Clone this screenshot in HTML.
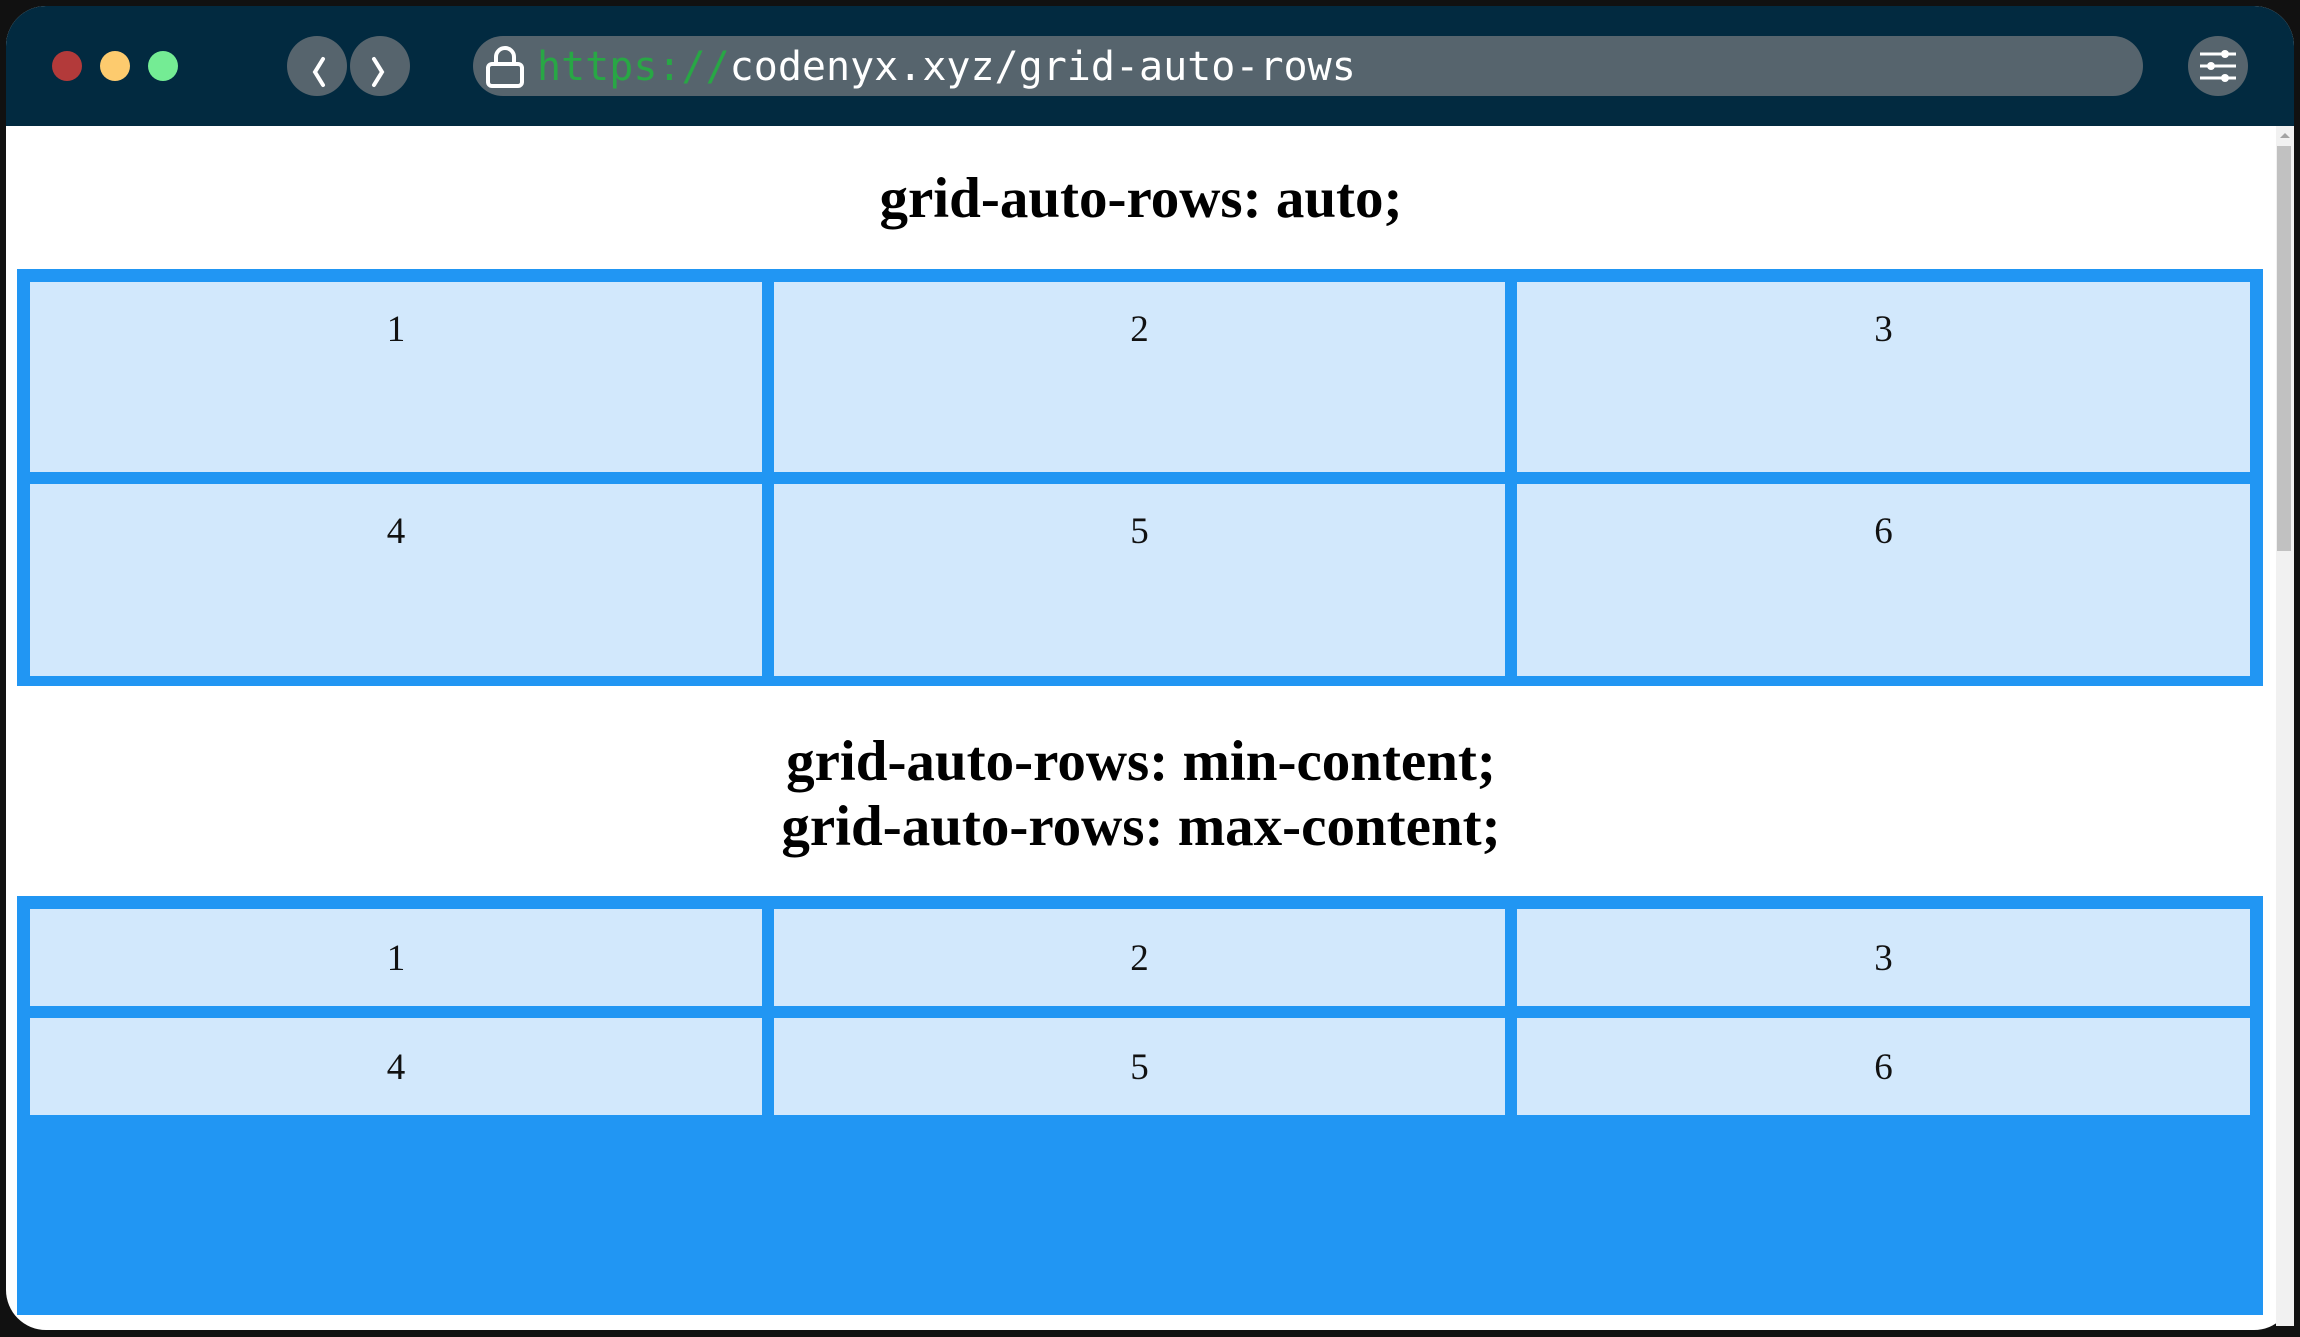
<!DOCTYPE html>
<html><head><meta charset="utf-8"><style>
*{margin:0;padding:0;box-sizing:border-box}
body{width:2300px;height:1337px;background:#111;position:relative;overflow:hidden;font-family:"Liberation Serif",serif}
.a{position:absolute}
.win{left:6px;top:6px;width:2288px;height:1324px;background:#fff;border-radius:40px;overflow:hidden}
.bar{left:0;top:0;width:2288px;height:120px;background:#022a40}
.dot{width:30px;height:30px;border-radius:50%;top:51px}
.pill{background:#56646d}
.cell{background:#d2e8fc;text-align:center;font-size:37px;color:#111}
.h{left:6px;width:2270px;text-align:center;font-weight:bold;font-size:57px;color:#000}
</style></head><body>
<div class="a win">
  <div class="a bar"></div>
</div>
<div class="a dot" style="left:52px;background:#b33a3a"></div>
<div class="a dot" style="left:100px;background:#fdcb6e"></div>
<div class="a dot" style="left:148px;background:#74ec94"></div>
<div class="a pill" style="left:287px;top:36px;width:60px;height:60px;border-radius:50%"></div>
<div class="a pill" style="left:350px;top:36px;width:60px;height:60px;border-radius:50%"></div>
<svg class="a" style="left:287px;top:36px" width="123" height="60"><path d="M36 23 L28 36 L36 49" stroke="#fff" stroke-width="4" fill="none" stroke-linecap="round"/><path d="M87 23 L95 36 L87 49" stroke="#fff" stroke-width="4" fill="none" stroke-linecap="round"/></svg>
<div class="a pill" style="left:473px;top:36px;width:1670px;height:60px;border-radius:30px"></div>
<svg class="a" style="left:485px;top:44px" width="40" height="46"><path d="M11 20 V13 a9 9 0 0 1 18 0 V20" stroke="#fff" stroke-width="4" fill="none"/><rect x="3" y="20" width="34" height="22" rx="4" stroke="#fff" stroke-width="4" fill="none"/></svg>
<div class="a" style="left:537px;top:41px;font-family:'DejaVu Sans Mono','Liberation Mono',monospace;font-size:40px;line-height:52px;color:#fff;white-space:nowrap"><span style="color:#28a745">https://</span>codenyx.xyz/grid-auto-rows</div>
<div class="a pill" style="left:2188px;top:36px;width:60px;height:60px;border-radius:50%"></div>
<svg class="a" style="left:2188px;top:36px" width="60" height="60"><g stroke="#fff" stroke-width="3"><line x1="12" y1="18" x2="48" y2="18"/><line x1="12" y1="30" x2="48" y2="30"/><line x1="12" y1="42" x2="48" y2="42"/></g><g fill="#fff"><circle cx="37" cy="18" r="4"/><circle cx="23" cy="30" r="4"/><circle cx="37" cy="42" r="4"/></g></svg>
<div class="a" style="left:2276px;top:126px;width:18px;height:1200px;background:#f1f1f1"></div>
<div class="a" style="left:2277px;top:146px;width:14px;height:405px;background:#c1c1c1"></div>
<div class="a" style="left:2280px;top:133px;width:0;height:0;border-left:5px solid transparent;border-right:5px solid transparent;border-bottom:5px solid #a3a3a3"></div>

<div class="a h" style="top:166px;line-height:65px">grid-auto-rows: auto;</div>
<div class="a" style="left:17px;top:269px;width:2246px;height:417px;background:#2196f3"></div>
<div class="a cell" style="left:30px;top:282px;width:732px;height:190px;padding-top:26px">1</div>
<div class="a cell" style="left:774px;top:282px;width:731px;height:190px;padding-top:26px">2</div>
<div class="a cell" style="left:1517px;top:282px;width:733px;height:190px;padding-top:26px">3</div>
<div class="a cell" style="left:30px;top:484px;width:732px;height:192px;padding-top:26px">4</div>
<div class="a cell" style="left:774px;top:484px;width:731px;height:192px;padding-top:26px">5</div>
<div class="a cell" style="left:1517px;top:484px;width:733px;height:192px;padding-top:26px">6</div>

<div class="a h" style="top:729px;line-height:65px">grid-auto-rows: min-content;<br>grid-auto-rows: max-content;</div>
<div class="a" style="left:17px;top:896px;width:2246px;height:419px;background:#2196f3"></div>
<div class="a cell" style="left:30px;top:909px;width:732px;height:97px;line-height:100px">1</div>
<div class="a cell" style="left:774px;top:909px;width:731px;height:97px;line-height:100px">2</div>
<div class="a cell" style="left:1517px;top:909px;width:733px;height:97px;line-height:100px">3</div>
<div class="a cell" style="left:30px;top:1018px;width:732px;height:97px;line-height:100px">4</div>
<div class="a cell" style="left:774px;top:1018px;width:731px;height:97px;line-height:100px">5</div>
<div class="a cell" style="left:1517px;top:1018px;width:733px;height:97px;line-height:100px">6</div>
</body></html>
